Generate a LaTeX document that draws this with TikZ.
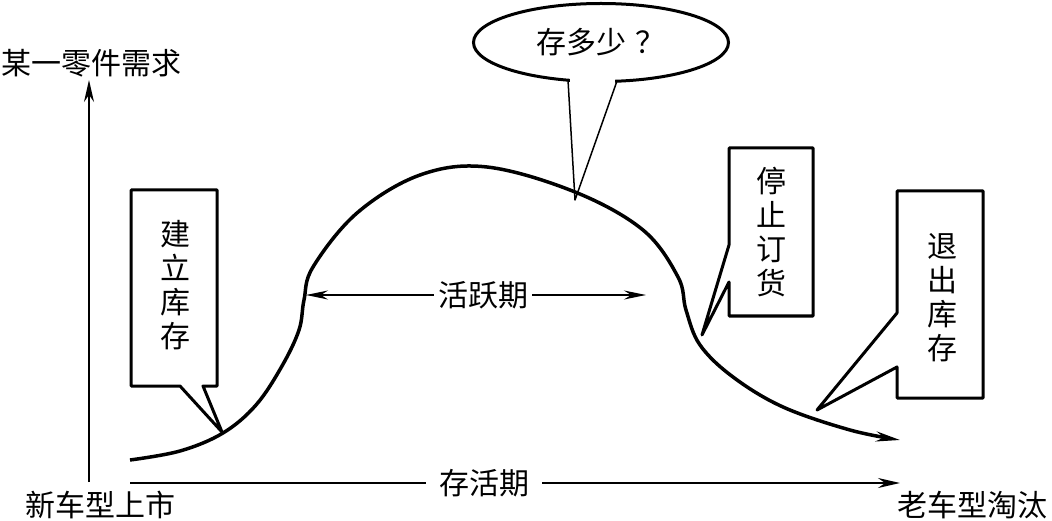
\documentclass[tikz,border=0pt]{standalone}
\usepackage{fontspec}
\setmainfont{Noto Sans CJK SC}
\usetikzlibrary{arrows.meta, shapes.geometric}

\begin{document}
\begin{tikzpicture}[x=1pt, y=-1pt,
	lab/.style={font=\fontsize{30}{34}\selectfont, inner sep=0pt, align=center},
	boite/.style={line width=3pt, line join=round},
	fleche/.style={-{Stealth[length=22pt, width=10pt]}}]
	\useasboundingbox (0,0) rectangle (1052,521);
	%les axes
	\coordinate (ybas) at (89,482);
	\coordinate (yhaut) at (89,80);
	\coordinate (xdeb) at (130,483);
	\coordinate (xfin) at (900,483);
	\draw[line width=2pt, fleche] (ybas) -- (yhaut);
	\draw[line width=2pt, fleche] (xdeb) -- (xfin);
	\node[lab, anchor=west] (demande) at (1,63) {某一零件需求};
	\node[lab] (lancement) at (100,505) {新车型上市};
	\node[lab] (retrait) at (972,505) {老车型淘汰};
	\node[lab, fill=white, inner xsep=13pt, inner ysep=3pt] (survie) at (484,483) {存活期};
	%la courbe
	\draw[line width=3.5pt, -{Stealth[length=24pt, width=10pt]}] plot[smooth, tension=0.6] coordinates {
		(130,460) (180,451) (223,433) (256,405) (282,366) (299,330) (304,300)
		(313,267) (357,213) (420,175) (487,167) (575,192) (643,230) (678,277)
		(686,310) (700,345) (733,377) (783,407) (850,430) (900,440)};
	%periode active
	\coordinate (actg) at (306,295);
	\coordinate (actd) at (646,295);
	\draw[line width=1.5pt, {Stealth[length=22pt, width=9pt]}-{Stealth[length=22pt, width=9pt]}] (actg) -- (actd);
	\node[lab, fill=white, inner xsep=4pt, inner ysep=3pt] (actif) at (483,295) {活跃期};
	%les bulles
	\coordinate (ptA) at (222,432);
	\coordinate (ptB) at (702,335);
	\coordinate (ptC) at (575,200);
	\coordinate (ptD) at (817,410);
	\draw[boite] (131,190) -- (217,190) -- (217,386) -- (203,386) -- (ptA) -- (180,386) -- (131,386) -- cycle;
	\node[lab] (stock) at (175,285) {建\\立\\库\\存};
	\draw[boite] (729,148) -- (813,148) -- (813,316) -- (729,316) -- (729,282) -- (ptB) -- (729,245) -- cycle;
	\node[lab] (arret) at (771,232) {停\\止\\订\\货};
	\draw[boite] (897,191) -- (983,191) -- (983,398) -- (897,398) -- (897,367) -- (ptD) -- (897,313) -- cycle;
	\node[lab] (sortie) at (942,298) {退\\出\\库\\存};
	\node[ellipse, draw, line width=3pt, minimum width=255pt, minimum height=78pt, inner sep=0pt,
		font=\fontsize{30}{34}\selectfont] (combien) at (601,42.5) {存多少\hspace{0.3em}？};
	\fill[white] (570,76) rectangle (615,88);
	\draw[line width=1.5pt, line join=round] (568,80) -- (ptC) -- (617,81);
\end{tikzpicture}
\end{document}
